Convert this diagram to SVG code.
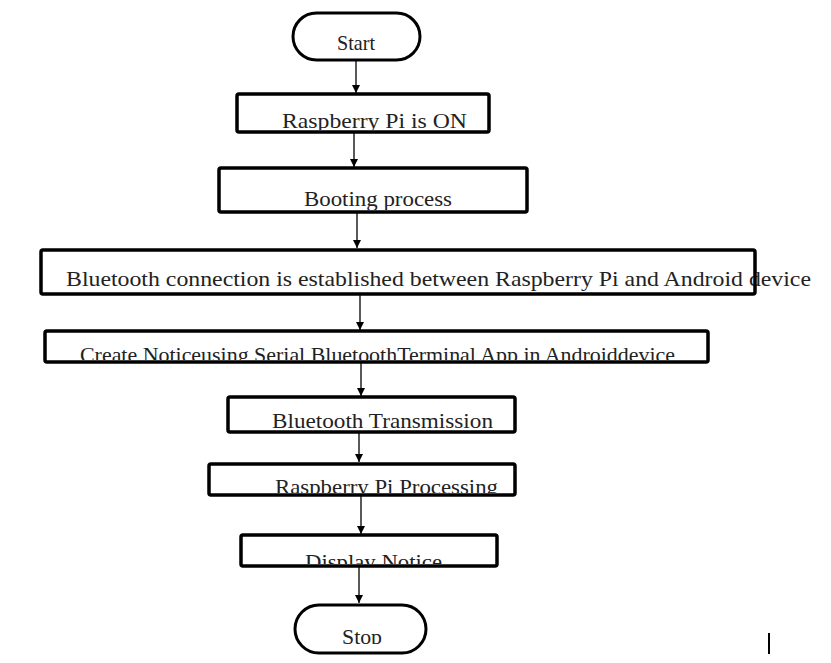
<svg xmlns="http://www.w3.org/2000/svg" width="831" height="663" viewBox="0 0 831 663">
<style>
.box{fill:none;stroke:#000;stroke-width:3.5}
.term{fill:#fff;stroke:#000;stroke-width:3}
.lbl{font-family:"Liberation Serif","Times New Roman",serif;font-size:21px;fill:#222}
.conn{stroke:#000;stroke-width:1.3;fill:none}
</style>
<defs>
<marker id="arr" viewBox="0 0 10 10" refX="10" refY="5" markerWidth="8" markerHeight="8" markerUnits="userSpaceOnUse" orient="auto">
<path d="M0,0 L10,5 L0,10 Z" fill="#000"/>
</marker>
<clipPath id="c1"><rect x="0" y="0" width="831" height="130"/></clipPath>
<clipPath id="c2"><rect x="0" y="0" width="831" height="210"/></clipPath>
<clipPath id="c3"><rect x="0" y="0" width="831" height="292"/></clipPath>
<clipPath id="c4"><rect x="0" y="0" width="831" height="360"/></clipPath>
<clipPath id="c5"><rect x="0" y="0" width="831" height="430"/></clipPath>
<clipPath id="c6"><rect x="0" y="0" width="831" height="493"/></clipPath>
<clipPath id="c7"><rect x="0" y="0" width="831" height="564"/></clipPath>
<clipPath id="c8"><rect x="0" y="0" width="831" height="644"/></clipPath>
</defs>
<rect width="831" height="663" fill="#fff"/>
<g id="connectors">
<line class="conn" x1="356" y1="61" x2="356" y2="93" marker-end="url(#arr)"/>
<line class="conn" x1="354" y1="132" x2="354" y2="167" marker-end="url(#arr)"/>
<line class="conn" x1="357" y1="212" x2="357" y2="248" marker-end="url(#arr)"/>
<line class="conn" x1="360" y1="294" x2="360" y2="330" marker-end="url(#arr)"/>
<line class="conn" x1="361" y1="362" x2="361" y2="396" marker-end="url(#arr)"/>
<line class="conn" x1="359" y1="432" x2="359" y2="462" marker-end="url(#arr)"/>
<line class="conn" x1="361" y1="496" x2="361" y2="534" marker-end="url(#arr)"/>
<line class="conn" x1="359" y1="566" x2="359" y2="603" marker-end="url(#arr)"/>
</g>
<g id="start">
<rect class="term" x="293" y="13" width="127" height="47" rx="23.5"/>
<text class="lbl" x="337" y="50" textLength="38" lengthAdjust="spacingAndGlyphs">Start</text>
</g>
<g id="pi-on">
<text class="lbl" x="282" y="128" textLength="185" lengthAdjust="spacingAndGlyphs" clip-path="url(#c1)">Raspberry  Pi is ON</text>
<rect class="box" x="237" y="94" width="252" height="38" rx="2"/>
</g>
<g id="booting">
<text class="lbl" x="304" y="206" textLength="148" lengthAdjust="spacingAndGlyphs" clip-path="url(#c2)">Booting  process</text>
<rect class="box" x="219" y="168" width="308" height="44" rx="2"/>
</g>
<g id="bt-connection">
<text class="lbl" x="66" y="286" textLength="745" lengthAdjust="spacingAndGlyphs" clip-path="url(#c3)">Bluetooth  connection  is established  between  Raspberry  Pi and  Android  device</text>
<rect class="box" x="41" y="250" width="714" height="44" rx="2"/>
</g>
<g id="create-notice">
<text class="lbl" x="80" y="362" textLength="595" lengthAdjust="spacingAndGlyphs" clip-path="url(#c4)">Create Noticeusing Serial  BluetoothTerminal App in Androiddevice</text>
<rect class="box" x="45" y="331" width="663" height="31" rx="2"/>
</g>
<g id="bt-transmission">
<text class="lbl" x="272" y="428" textLength="221" lengthAdjust="spacingAndGlyphs" clip-path="url(#c5)">Bluetooth  Transmission</text>
<rect class="box" x="228" y="397" width="287" height="35" rx="2"/>
</g>
<g id="pi-processing">
<text class="lbl" x="275" y="494" textLength="223" lengthAdjust="spacingAndGlyphs" clip-path="url(#c6)">Raspberry  Pi Processing</text>
<rect class="box" x="209" y="464" width="306" height="31" rx="2"/>
</g>
<g id="display-notice">
<text class="lbl" x="305" y="569" textLength="137" lengthAdjust="spacingAndGlyphs" clip-path="url(#c7)">Display  Notice</text>
<rect class="box" x="241" y="535" width="256" height="31" rx="2"/>
</g>
<g id="stop">
<rect class="term" x="295" y="605" width="131" height="48" rx="24"/>
<text class="lbl" x="342" y="644" textLength="40" lengthAdjust="spacingAndGlyphs" clip-path="url(#c8)">Stop</text>
</g>
<line x1="769" y1="633" x2="769" y2="654" stroke="#000" stroke-width="2"/>
</svg>
